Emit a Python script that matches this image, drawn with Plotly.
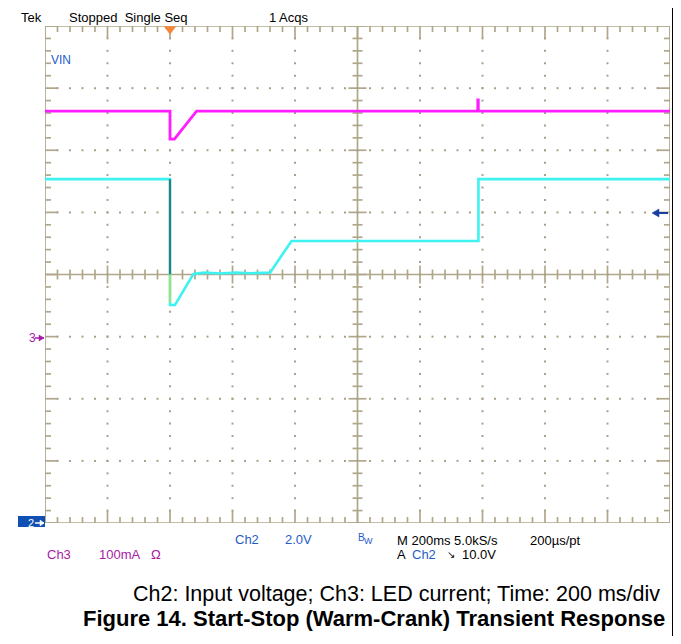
import plotly.graph_objects as go

# ---------------- data (read from the scope capture) ----------------
# Ch2: input voltage (V), time in ms relative to trigger
ch2_t = [-400, 0, 0, 16, 75, 110, 160, 210, 260, 320, 389, 987, 987, 1600]
ch2_v = [11.07, 11.07, 7.02, 7.02, 8.02, 8.06, 8.03, 8.06, 8.04, 8.06, 9.08, 9.08, 11.07, 11.07]
# Ch3: LED current (mA)
ch3_t = [-400, 0, 0, 14, 85, 985, 985, 986.5, 986.5, 1600]
ch3_i = [363, 363, 318, 318, 363, 363, 381, 381, 363, 363]

# scope settings
t_div = 200        # ms/div
v_div = 2.0        # V/div (Ch2)
i_div = 100        # mA/div (Ch3)
t_start = -400
ch3_bottom = -300  # mA at bottom of screen

PAGE_W, PAGE_H = 681, 644
OFF = 8                          # html body margin
W, H = PAGE_W - OFF, PAGE_H - 2 * OFF
L, R, T, B = 45, 670, 26, 523    # graticule pixel box (page coordinates)
px_x = (R - L) / (10 * t_div)    # px per ms
px_v = (B - T) / (8 * v_div)     # px per V

def tx(d):
    return t_start + d * t_div

def vy(d):
    return d * v_div

def dx(p):
    return p / px_x

def dv(p):
    return p / px_v

def px(x):
    return (x - OFF) / W

def py(y):
    return 1 - (y - OFF) / H

GRAT = "#b0a78b"
BLUE = "#1f5cc8"
MAG = "#a41ca4"
FONT = "Liberation Sans, Arial, sans-serif"

fig = go.Figure()

# ---------------- graticule ----------------
gx, gy = [], []
def seg(x0, y0, x1, y1):
    gx.extend([x0, x1, None]); gy.extend([y0, y1, None])

gx.extend([tx(0), tx(10), tx(10), tx(0), tx(0), None])
gy.extend([vy(0), vy(0), vy(8), vy(8), vy(0), None])
seg(tx(5), vy(0), tx(5), vy(8))
seg(tx(0), vy(4), tx(10), vy(4))
for i in range(51):
    x = tx(i / 5)
    major = i % 5 == 0
    ln = 12 if major else 6
    seg(x, vy(8), x, vy(8) - dv(ln))
    seg(x, vy(0), x, vy(0) + dv(ln))
    c = 9 if major else 5
    seg(x, vy(4) - dv(c), x, vy(4) + dv(c))
for j in range(41):
    y = vy(j / 5)
    major = j % 5 == 0
    ln = 13 if major else 6
    seg(tx(0), y, tx(0) + dx(ln), y)
    seg(tx(10), y, tx(10) - dx(ln), y)
    c = 9 if major else 5
    seg(tx(5) - dx(c), y, tx(5) + dx(c), y)

fig.add_trace(go.Scatter(x=gx, y=gy, mode="lines", line=dict(color=GRAT, width=1.7),
                         hoverinfo="skip", showlegend=False))

dxs, dys = [], []
for k in range(1, 10):
    if k == 5:
        continue
    for j in range(1, 40):
        dxs.append(tx(k)); dys.append(vy(j / 5))
for k in range(1, 8):
    if k == 4:
        continue
    for i in range(1, 50):
        dxs.append(tx(i / 5)); dys.append(vy(k))
fig.add_trace(go.Scatter(x=dxs, y=dys, mode="markers",
                         marker=dict(color="#aaa188", size=2, symbol="square"),
                         hoverinfo="skip", showlegend=False))

# ---------------- traces ----------------
fig.add_trace(go.Scatter(x=ch2_t, y=ch2_v, mode="lines", line=dict(color="#3ef2f2", width=2.6),
                         showlegend=False, name="Ch2"))
fig.add_trace(go.Scatter(x=[0, 0], y=[ch2_v[1], 8.0], mode="lines",
                         line=dict(color="#2e7d80", width=2.2), showlegend=False))
fig.add_trace(go.Scatter(x=[0, 0], y=[8.0, 7.1], mode="lines",
                         line=dict(color="#9fe07a", width=2.2), showlegend=False))
fig.add_trace(go.Scatter(x=ch3_t, y=ch3_i, mode="lines", yaxis="y2",
                         line=dict(color="#ff1cff", width=2.8), showlegend=False, name="Ch3"))

# trigger position marker
fig.add_trace(go.Scatter(x=[0], y=[vy(8) - dv(3)], mode="markers", cliponaxis=False,
                         marker=dict(symbol="triangle-down", size=11, color="#f4883a"),
                         showlegend=False, hoverinfo="skip"))

fig.update_layout(
    width=W, height=H, margin=dict(l=0, r=0, t=0, b=0),
    paper_bgcolor="white", plot_bgcolor="white",
    xaxis=dict(domain=[px(L), px(R)], range=[tx(0), tx(10)], visible=False, fixedrange=True),
    yaxis=dict(domain=[py(B), py(T)], range=[vy(0), vy(8)], visible=False),
    yaxis2=dict(overlaying="y", range=[ch3_bottom, ch3_bottom + 8 * i_div], visible=False),
    font=dict(family=FONT),
)

def txt(x, y, s, color="black", size=13, xanchor="left", bold=False, family=FONT):
    if bold:
        s = "<b>" + s + "</b>"
    fig.add_annotation(x=px(x), y=py(y), xref="paper", yref="paper", text=s, showarrow=False,
                       xanchor=xanchor, yanchor="middle",
                       font=dict(color=color, size=size, family=family))

def pline(x0, y0, x1, y1, color, width):
    fig.add_shape(type="line", xref="paper", yref="paper", x0=px(x0), y0=py(y0), x1=px(x1), y1=py(y1),
                  line=dict(color=color, width=width))

def ptri(pts, color):
    path = "M " + " L ".join(f"{px(a)},{py(b)}" for a, b in pts) + " Z"
    fig.add_shape(type="path", xref="paper", yref="paper", path=path,
                  fillcolor=color, line=dict(color=color, width=0.5))

# header
txt(19, 17, "Tek")
txt(67, 17, "Stopped\u00a0\u00a0Single Seq")
txt(267, 17, "1 Acqs")
txt(49, 60, "VIN", BLUE, 12)

# Ch3 ground marker
txt(27, 338, "3", MAG, 12)
pline(35, 338, 44, 338, MAG, 1.5)
ptri([(44, 338), (39, 335), (39, 341)], MAG)

# Ch2 ground marker (blue tab)
fig.add_shape(type="rect", xref="paper", yref="paper", x0=px(18), x1=px(45), y0=py(527), y1=py(516),
              fillcolor="#1050b4", line=dict(width=0))
txt(26, 523, "2", "white", 11)
pline(35, 523, 44, 523, "white", 1.5)
ptri([(44, 523), (40, 520), (40, 526)], "white")

# trigger level arrow
pline(657, 213, 668, 213, "#1a3f9e", 2)
ptri([(652, 213), (659, 209), (659, 217)], "#1a3f9e")

# bottom readouts
txt(233, 539, "Ch2", BLUE)
txt(283, 539, "2.0V", BLUE)
txt(356, 537, "B", BLUE, 10)
txt(362, 541, "W", BLUE, 9)
txt(395, 540, "M 200ms 5.0kS/s")
txt(528, 540, "200\u00b5s/pt")
txt(45, 554, "Ch3", MAG)
txt(97, 554, "100mA", MAG)
txt(149, 554, "\u03a9", MAG)
txt(395, 554, "A")
txt(410, 554, "Ch2", BLUE)
txt(445, 554, "\u2198", "black", 10, family="DejaVu Sans")
txt(460, 554, "10.0V")

# caption
txt(662, 594, "Ch2: Input voltage; Ch3: LED current; Time: 200 ms/div", size=21.5, xanchor="right")
txt(667, 618, "Figure 14. Start-Stop (Warm-Crank) Transient Response", size=22, xanchor="right", bold=True)

# page table border (right side; the others fall in the page margin)
pline(673, OFF, 673, PAGE_H - OFF, "black", 2)

fig.write_html("out.html")
